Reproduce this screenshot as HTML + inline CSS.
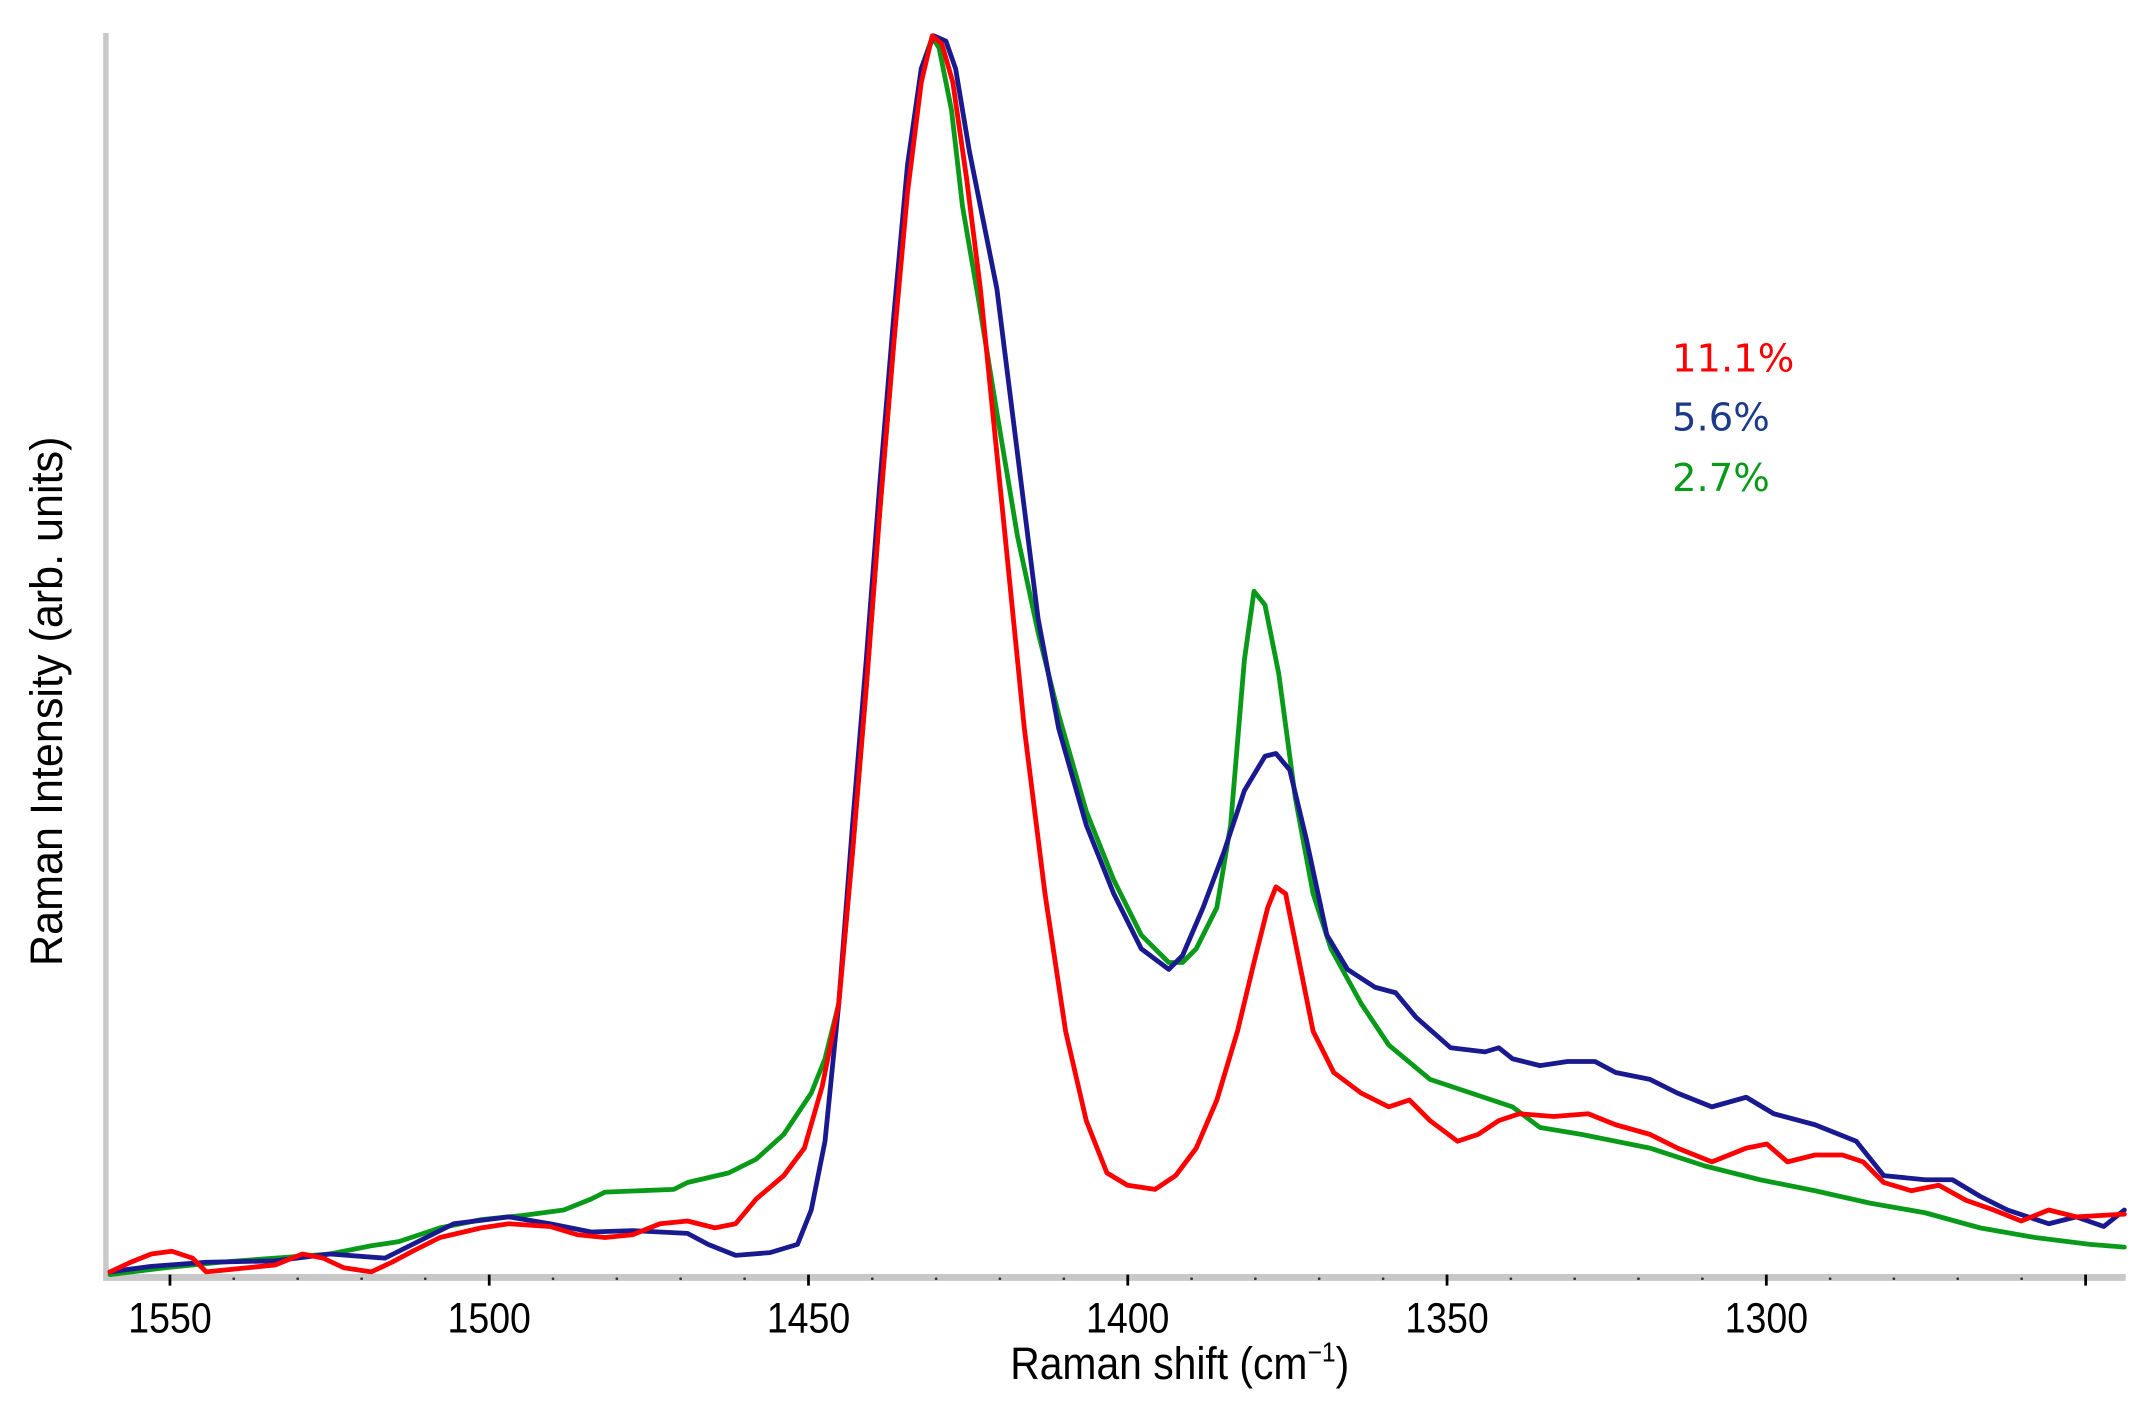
<!DOCTYPE html>
<html><head><meta charset="utf-8"><style>html,body{margin:0;padding:0;background:#fff}svg{display:block}</style></head>
<body>
<svg width="2145" height="1408" viewBox="0 0 1560 1024" xmlns="http://www.w3.org/2000/svg">
<rect width="1560" height="1024" fill="#fff"/>
<line x1="77" y1="24" x2="77" y2="929" stroke="#c8c8c8" stroke-width="4"/>
<line x1="75" y1="929" x2="1546" y2="929" stroke="#c8c8c8" stroke-width="5"/>
<g stroke="#000" stroke-width="2">
<line x1="123.6" y1="927" x2="123.6" y2="935"/><line x1="355.8" y1="927" x2="355.8" y2="935"/><line x1="588" y1="927" x2="588" y2="935"/><line x1="820.2" y1="927" x2="820.2" y2="935"/><line x1="1052.4" y1="927" x2="1052.4" y2="935"/><line x1="1284.6" y1="927" x2="1284.6" y2="935"/><line x1="1516.8" y1="927" x2="1516.8" y2="935"/>
</g>
<g fill="#333">
<circle cx="170" cy="930" r="1"/><circle cx="216.5" cy="930" r="1"/><circle cx="263" cy="930" r="1"/><circle cx="309.3" cy="930" r="1"/>
<circle cx="402.2" cy="930" r="1"/><circle cx="448.6" cy="930" r="1"/><circle cx="495" cy="930" r="1"/><circle cx="541.5" cy="930" r="1"/>
<circle cx="634.4" cy="930" r="1"/><circle cx="680.8" cy="930" r="1"/><circle cx="727.2" cy="930" r="1"/><circle cx="773.7" cy="930" r="1"/>
<circle cx="866.6" cy="930" r="1"/><circle cx="913" cy="930" r="1"/><circle cx="959.4" cy="930" r="1"/><circle cx="1005.9" cy="930" r="1"/>
<circle cx="1098.8" cy="930" r="1"/><circle cx="1145.2" cy="930" r="1"/><circle cx="1191.6" cy="930" r="1"/><circle cx="1238.1" cy="930" r="1"/>
<circle cx="1331" cy="930" r="1"/><circle cx="1377.4" cy="930" r="1"/><circle cx="1423.8" cy="930" r="1"/><circle cx="1470.3" cy="930" r="1"/>
</g>
<g font-family="Liberation Sans, sans-serif" font-size="31" text-anchor="middle" fill="#000" transform="scale(0.88,1)">
<text x="140.5" y="969">1550</text><text x="404.3" y="969">1500</text><text x="668.2" y="969">1450</text><text x="932" y="969">1400</text><text x="1195.9" y="969">1350</text><text x="1459.8" y="969">1300</text>
</g>
<g transform="translate(858,1003) scale(0.9,1)">
<text x="0" y="0" font-family="Liberation Sans, sans-serif" font-size="33" text-anchor="middle">Raman shift (cm<tspan font-size="20" dy="-13">−1</tspan><tspan dy="13">)</tspan></text>
</g>
<text transform="translate(45,510) rotate(-90) scale(0.95,1)" font-family="Liberation Sans, sans-serif" font-size="33" text-anchor="middle">Raman Intensity (arb. units)</text>
<g font-family="DejaVu Sans, sans-serif" font-size="28">
<text x="1216" y="270" fill="#ff0000">11.1%</text>
<text x="1216" y="313" fill="#1b3a8a">5.6%</text>
<text x="1216" y="357" fill="#0a9a1a">2.7%</text>
</g>
<g fill="none" stroke-width="3.5" stroke-linejoin="round" stroke-linecap="round">
<polyline stroke="#0a9a1a" points="80,927 120,922 160,918 200,915 240,912 270,906 290,903 320,893 350,887 380,884 410,880 430,872 440,867 490,865 500,860 530,853 550,843 570,825 590,795 600,770 610,730 620,620 630,500 640,370 650,250 660,130 670,50 678,27 683,35 692,80 700,150 712,220 725,300 740,390 755,460 770,520 790,590 810,640 830,680 850,700 860,700 870,690 885,660 895,600 905,480 912,430 920,440 930,490 942,580 955,650 968,690 990,730 1010,760 1040,785 1070,795 1100,805 1120,820 1150,825 1200,835 1240,848 1280,858 1320,866 1360,875 1400,882 1440,893 1480,900 1520,905 1545,907"/>
<polyline stroke="#1a1a90" points="80,925 110,921 150,918 200,917 240,912 280,915 300,905 330,890 370,885 400,890 430,896 460,895 500,897 515,905 535,913 560,911 580,905 590,880 600,830 610,730 620,600 630,480 640,350 650,230 660,120 670,50 679,26 688,30 695,50 705,110 715,160 725,210 735,290 745,370 755,450 770,530 790,600 810,650 830,690 850,705 860,695 875,660 890,620 905,575 920,550 928,548 938,560 950,610 965,680 980,705 1000,718 1015,722 1030,740 1055,762 1080,765 1090,762 1100,770 1120,775 1140,772 1160,772 1175,780 1200,785 1220,795 1245,805 1270,798 1290,810 1320,818 1350,830 1370,855 1400,858 1420,858 1440,870 1460,880 1490,890 1510,885 1530,892 1545,880"/>
<polyline stroke="#ff0000" points="80,925 95,918 110,912 125,910 140,915 150,925 180,922 200,920 220,912 235,915 250,922 270,925 285,918 300,910 320,900 350,893 370,890 400,892 420,898 440,900 460,898 480,890 500,888 520,893 535,890 550,872 570,855 585,835 598,790 610,730 620,620 630,500 640,370 650,250 660,140 670,60 678,26 685,32 693,60 703,130 713,210 722,300 732,400 745,530 760,650 775,750 790,815 805,853 820,862 840,865 855,855 870,835 885,800 900,750 912,700 922,660 928,645 935,650 945,700 955,750 970,780 990,795 1010,805 1025,800 1040,815 1060,830 1075,825 1090,815 1105,810 1130,812 1155,810 1175,818 1200,825 1220,835 1245,845 1270,835 1285,832 1300,845 1320,840 1340,840 1355,845 1370,860 1390,866 1410,862 1430,873 1450,880 1470,888 1490,880 1510,885 1545,883"/>
</g>
</svg>
</body></html>
